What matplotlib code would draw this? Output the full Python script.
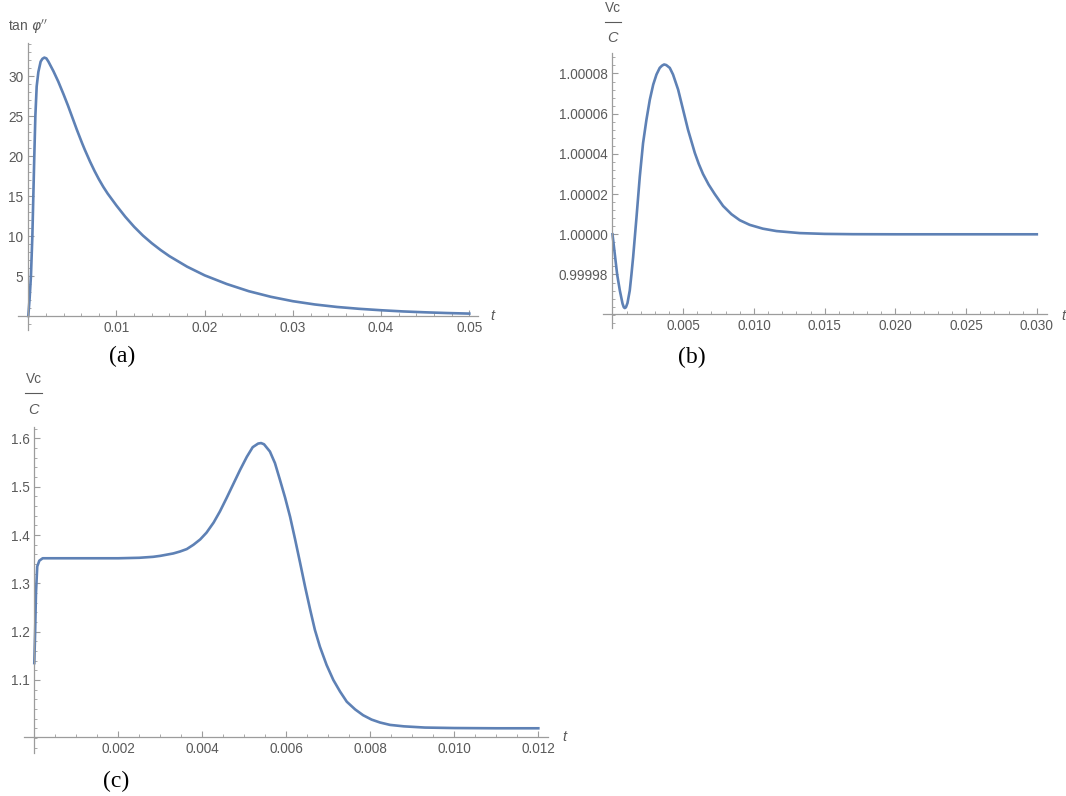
import matplotlib
matplotlib.use("Agg")
import matplotlib.pyplot as plt
from matplotlib.ticker import FixedLocator, MultipleLocator, FuncFormatter
from matplotlib.lines import Line2D

# ==========================================
# Three transient responses, Mathematica-like look
# ==========================================

W, H = 1066, 796

# (a) tan phi'' against t
t_a = [0, 0.00015, 0.0003, 0.00046, 0.00057, 0.00068, 0.0008, 0.00095, 0.00114,
       0.0014, 0.0016, 0.00182, 0.00205, 0.00228, 0.00285, 0.0034, 0.0040, 0.0045,
       0.0049, 0.0055, 0.0061, 0.0064, 0.0067, 0.0070, 0.0075, 0.0080, 0.0085,
       0.0090, 0.0093, 0.0100, 0.0110, 0.0120, 0.0130, 0.0140, 0.0150, 0.0160,
       0.0180, 0.0200, 0.0225, 0.0250, 0.0275, 0.0300, 0.0325, 0.0350, 0.0375,
       0.0400, 0.0425, 0.0450, 0.0475, 0.0500]
tan_a = [0, 2.2, 5, 10, 15, 20, 25, 28.7, 30.5,
         31.8, 32.15, 32.3, 32.2, 31.8, 30.6, 29.3, 27.7, 26.3,
         25.1, 23.3, 21.6, 20.8, 20.05, 19.3, 18.15, 17.1, 16.15,
         15.3, 14.85, 13.8, 12.4, 11.15, 10.05, 9.1, 8.25, 7.48,
         6.17, 5.08, 4.0, 3.1, 2.4, 1.85, 1.44, 1.13, 0.9,
         0.72, 0.57, 0.46, 0.37, 0.3]

# (b) Vc/C against t (small ripple around 1)
t_b = [0, 0.00016, 0.00033, 0.00052, 0.00071, 0.0008, 0.00087, 0.00095, 0.00106,
       0.00122, 0.00134, 0.00146, 0.0017, 0.00193, 0.00216, 0.0024, 0.00264, 0.00288,
       0.00311, 0.00334, 0.0035, 0.00365, 0.0038, 0.00405, 0.00428, 0.00464, 0.00499,
       0.00534, 0.00582, 0.0061, 0.0064, 0.0068, 0.00723, 0.00782, 0.00841, 0.0090,
       0.0097, 0.01063, 0.0116, 0.01324, 0.015, 0.017, 0.020, 0.025, 0.030]
vc_b = [1.0, 0.9999903, 0.99998, 0.999972, 0.9999655, 0.9999637, 0.9999633, 0.9999637, 0.9999658,
        0.999972, 0.99998, 0.9999887, 1.0000087, 1.0000287, 1.0000453, 1.000057, 1.000067, 1.0000745,
        1.0000795, 1.0000828, 1.0000839, 1.0000845, 1.0000842, 1.0000828, 1.0000795, 1.000072, 1.000062,
        1.000052, 1.0000405, 1.000035, 1.00003, 1.0000247, 1.00002, 1.0000141, 1.00001, 1.000007,
        1.0000047, 1.0000028, 1.0000016, 1.0000006, 1.0000002, 1.00000005, 1.0, 1.0, 1.0]

# (c) Vc/C against t
t_c = [0, 0.00002, 0.00004, 0.00007, 0.00012, 0.0002, 0.001, 0.002, 0.0025, 0.00283,
       0.003, 0.00331, 0.00347, 0.00363, 0.00379, 0.00395, 0.0041, 0.00427, 0.00442,
       0.00458, 0.00474, 0.0049, 0.00506, 0.0052, 0.00533, 0.0054, 0.00547, 0.00561,
       0.00573, 0.00585, 0.00597, 0.00609, 0.00621, 0.00633, 0.00645, 0.00657,
       0.00668, 0.0068, 0.00696, 0.00712, 0.00728, 0.00744, 0.00764, 0.00783,
       0.00803, 0.00823, 0.00847, 0.0088, 0.0093, 0.0100, 0.0110, 0.0120]
vc_c = [1.135, 1.20, 1.28, 1.335, 1.347, 1.352, 1.352, 1.352, 1.353, 1.355,
        1.357, 1.362, 1.366, 1.371, 1.38, 1.391, 1.405, 1.426, 1.449,
        1.477, 1.506, 1.535, 1.562, 1.582, 1.5895, 1.5905, 1.588, 1.573,
        1.549, 1.514, 1.478, 1.438, 1.391, 1.342, 1.292, 1.245,
        1.204, 1.169, 1.131, 1.1, 1.076, 1.055, 1.039, 1.027,
        1.018, 1.012, 1.007, 1.004, 1.0015, 1.0005, 1.0, 1.0]

ticks_a_x = [0.01, 0.02, 0.03, 0.04, 0.05]
ticks_a_y = [5, 10, 15, 20, 25, 30]
ticks_b_x = [0.005, 0.010, 0.015, 0.020, 0.025, 0.030]
ticks_b_y = [0.99998, 1.0, 1.00002, 1.00004, 1.00006, 1.00008]
ticks_c_x = [0.002, 0.004, 0.006, 0.008, 0.010, 0.012]
ticks_c_y = [1.1, 1.2, 1.3, 1.4, 1.5, 1.6]

LINE = "#5E81B5"
AXC = "#9c9c9c"
TXT = "#5a5a5a"
plt.rcParams["font.family"] = ["Liberation Sans", "DejaVu Sans"]


def fx(x):
    return x / W


def fy(y):
    return 1 - y / H


def make_axes(fig, left, right, top, bottom):
    return fig.add_axes([fx(left), fy(bottom), (right - left) / W, (bottom - top) / H])


def style(ax, xlim, ylim, yorig, xmaj, ymaj, xmin, ymin, xfmt, yfmt):
    ax.set_xlim(*xlim)
    ax.set_ylim(*ylim)
    ax.patch.set_visible(False)
    for s in ["top", "right"]:
        ax.spines[s].set_visible(False)
    ax.spines["left"].set_position(("data", 0))
    ax.spines["bottom"].set_position(("data", yorig))
    for s in ["left", "bottom"]:
        ax.spines[s].set_color(AXC)
        ax.spines[s].set_linewidth(0.9)
    ax.xaxis.set_major_locator(FixedLocator(xmaj))
    ax.yaxis.set_major_locator(FixedLocator(ymaj))
    ax.xaxis.set_minor_locator(MultipleLocator(xmin))
    ax.yaxis.set_minor_locator(MultipleLocator(ymin))
    ax.xaxis.set_major_formatter(FuncFormatter(lambda v, p: xfmt % v))
    ax.yaxis.set_major_formatter(FuncFormatter(lambda v, p: yfmt % v))
    ax.tick_params(which="major", direction="in", length=4, width=0.8,
                   color=AXC, labelcolor=TXT, labelsize=9.8, pad=3.5)
    ax.tick_params(which="minor", direction="in", length=2.3, width=0.6, color=AXC)


def frac_label(fig, xc, y_num, y_bar, y_den, half):
    fig.text(fx(xc), fy(y_num), "Vc", ha="center", va="center", fontsize=9.8, color=TXT)
    fig.add_artist(Line2D([fx(xc - half), fx(xc + half)], [fy(y_bar), fy(y_bar)],
                          transform=fig.transFigure, color=TXT, lw=0.8))
    fig.text(fx(xc), fy(y_den), "C", ha="center", va="center", fontsize=10.5,
             color=TXT, style="italic")


fig = plt.figure(figsize=(W / 100, H / 100), dpi=100)

# panel (a)
ax_a = make_axes(fig, 18, 478, 43, 330)
ax_a.plot(t_a, tan_a, color=LINE, lw=1.9, solid_joinstyle="round")
style(ax_a, (-0.001168, 0.05099), (-1.75, 34.125), 0,
      ticks_a_x, ticks_a_y, 0.002, 1, "%.2f", "%d")
fig.text(fx(8), fy(27), r"tan $\varphi''$", ha="left", va="center", fontsize=10, color=TXT)
fig.text(fx(492), fy(316), "t", ha="center", va="center", fontsize=10.5, color=TXT, style="italic")
fig.text(fx(122.5), fy(356), "(a)", ha="center", va="center", fontsize=17,
         family="Liberation Serif", color="black")

# panel (b)
ax_b = make_axes(fig, 603.3, 1046.7, 53.3, 328.3)
ax_b.plot(t_b, vc_b, color=LINE, lw=1.9, solid_joinstyle="round")
style(ax_b, (-0.00065, 0.0307), (1 - 4.677e-5, 1 + 9.005e-5), 1 - 3.98e-5,
      ticks_b_x, ticks_b_y, 0.001, 0.4e-5, "%.3f", "%.5f")
frac_label(fig, 612.5, 8.5, 21.7, 37.5, 8)
fig.text(fx(1063), fy(316), "t", ha="center", va="center", fontsize=10.5, color=TXT, style="italic")
fig.text(fx(691.5), fy(357), "(b)", ha="center", va="center", fontsize=17,
         family="Liberation Serif", color="black")

# panel (c)
ax_c = make_axes(fig, 24, 548.3, 426.7, 753.3)
ax_c.plot(t_c, vc_c, color=LINE, lw=1.9, solid_joinstyle="round")
style(ax_c, (-0.000245, 0.012238), (0.9482, 1.6244), 0.981,
      ticks_c_x, ticks_c_y, 0.0005, 0.02, "%.3f", "%.1f")
frac_label(fig, 33.5, 379, 393, 410, 8.5)
fig.text(fx(564.5), fy(737), "t", ha="center", va="center", fontsize=10.5, color=TXT, style="italic")
fig.text(fx(116), fy(781), "(c)", ha="center", va="center", fontsize=17,
         family="Liberation Serif", color="black")

fig.savefig("out.png", dpi=100)
